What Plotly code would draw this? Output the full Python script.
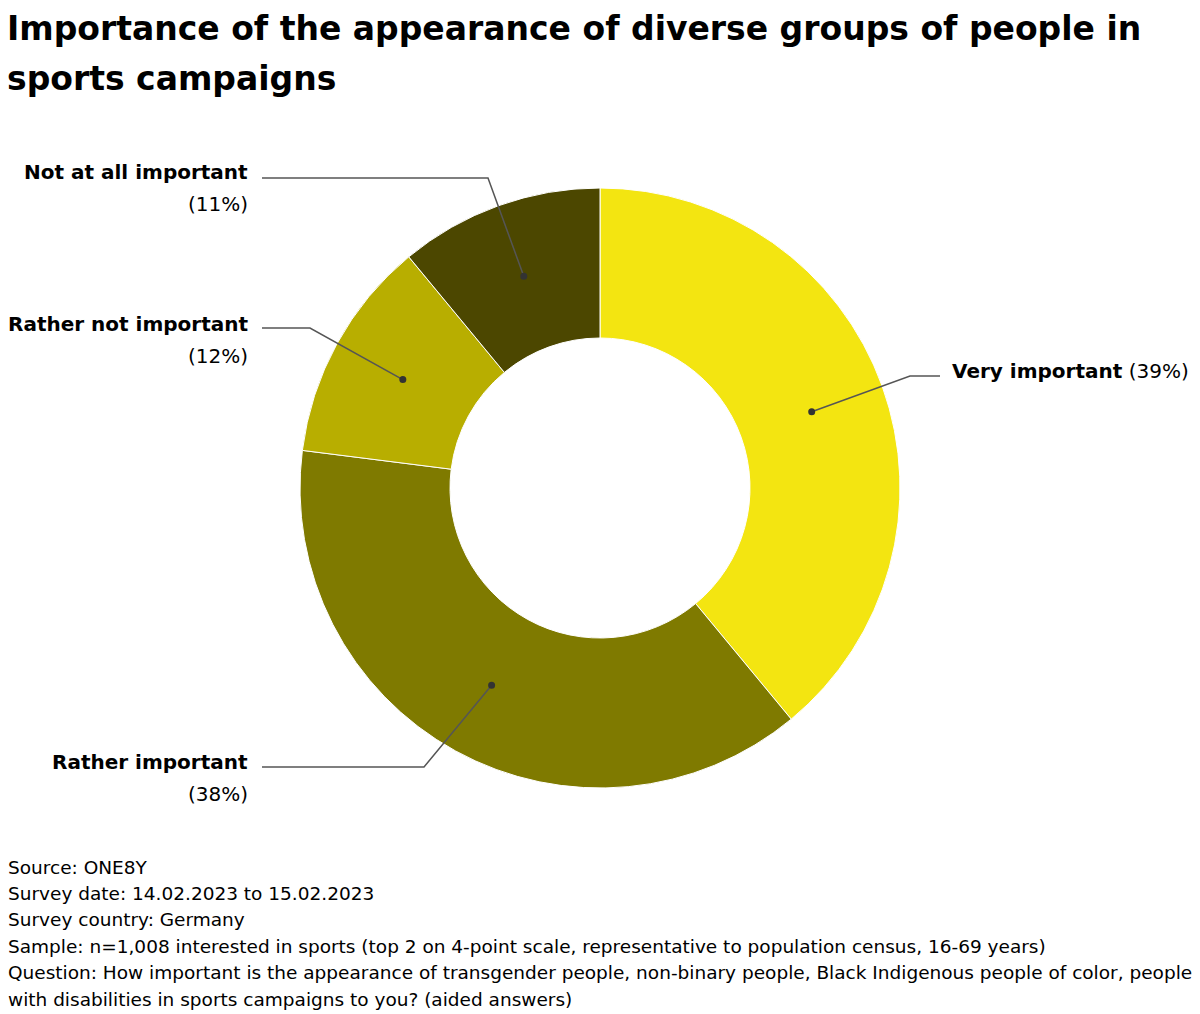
import math
import plotly.graph_objects as go

# ---- data ----
categories = ["Very important", "Rather important", "Rather not important", "Not at all important"]
values = [39, 38, 12, 11]
colors = ["#f3e511", "#7f7a00", "#b8ae00", "#4c4700"]

title_lines = ["Importance of the appearance of diverse groups of people in", "sports campaigns"]
footer_lines = [
    "Source: ONE8Y",
    "Survey date: 14.02.2023 to 15.02.2023",
    "Survey country: Germany",
    "Sample: n=1,008 interested in sports (top 2 on 4-point scale, representative to population census, 16-69 years)",
    "Question: How important is the appearance of transgender people, non-binary people, Black Indigenous people of color, people",
    "with disabilities in sports campaigns to you? (aided answers)",
]

# ---- layout constants (pixels in the 1200x1014 window) ----
OFF = 8  # page body margin
W, H = 1200 - OFF, 1014 - OFF
CX, CY, R = 600, 488, 300
FONT = "DejaVu Sans"

def px(x):
    return (x - OFF) / W

def py(y):
    return 1 - (y - OFF) / H

label_layout = {
    "Very important": dict(side="right", ty=371, elbow=(910, 376), end=940, tx=950),
    "Rather important": dict(side="left", ty=762, elbow=(424, 767), end=262, tx=250),
    "Rather not important": dict(side="left", ty=324, elbow=(310, 328), end=262, tx=250),
    "Not at all important": dict(side="left", ty=172, elbow=(488, 178), end=262, tx=250),
}

fig = go.Figure()
fig.add_trace(go.Pie(
    labels=categories,
    values=values,
    marker=dict(colors=colors, line=dict(color="white", width=1)),
    hole=0.5,
    sort=False,
    direction="clockwise",
    rotation=0,
    textinfo="none",
    hoverinfo="label+percent",
    showlegend=False,
    domain=dict(x=[px(CX - R), px(CX + R)], y=[py(CY + R), py(CY - R)]),
))

shapes = []
annotations = []
total = sum(values)
cum = 0
for cat, v in zip(categories, values):
    mid = (cum + v / 2) / total * 2 * math.pi
    cum += v
    rd = 0.75 * R
    dx = CX + rd * math.sin(mid)
    dy = CY - rd * math.cos(mid)
    L = label_layout[cat]
    ex, ey = L["elbow"]
    path = f"M {px(dx)},{py(dy)} L {px(ex)},{py(ey)} L {px(L['end'])},{py(ey)}"
    shapes.append(dict(type="path", xref="paper", yref="paper", path=path,
                       line=dict(color="#555555", width=1.5)))
    shapes.append(dict(type="circle", xref="paper", yref="paper",
                       xsizemode="pixel", ysizemode="pixel",
                       xanchor=px(dx), yanchor=py(dy), x0=-3.5, x1=3.5, y0=-3.5, y1=3.5,
                       fillcolor="#333333", line=dict(color="#333333", width=0)))
    pct = f"({round(v / total * 100)}%)"
    if L["side"] == "right":
        annotations.append(dict(x=px(L["tx"]), y=py(L["ty"]), xref="paper", yref="paper",
                                text=f"<b>{cat}</b> {pct}", showarrow=False,
                                xanchor="left", yanchor="middle",
                                font=dict(family=FONT, size=20, color="#000000")))
    else:
        annotations.append(dict(x=px(L["tx"]), y=py(L["ty"]), xref="paper", yref="paper",
                                text=f"<b>{cat}</b>", showarrow=False,
                                xanchor="right", yanchor="middle",
                                font=dict(family=FONT, size=20, color="#000000")))
        annotations.append(dict(x=px(L["tx"]), y=py(L["ty"] + 32), xref="paper", yref="paper",
                                text=pct, showarrow=False,
                                xanchor="right", yanchor="middle",
                                font=dict(family=FONT, size=20, color="#000000")))

for i, t in enumerate(title_lines):
    annotations.append(dict(x=0, y=py(29 + 50 * i), xref="paper", yref="paper",
                            text=f"<b>{t}</b>", showarrow=False,
                            xanchor="left", yanchor="middle", xshift=-2, borderpad=0,
                            font=dict(family=FONT, size=33, color="#000000")))

for i, t in enumerate(footer_lines):
    annotations.append(dict(x=0, y=py(867 + 26.4 * i), xref="paper", yref="paper",
                            text=t, showarrow=False,
                            xanchor="left", yanchor="middle", xshift=-2,
                            font=dict(family=FONT, size=18.5, color="#000000")))

fig.update_layout(
    width=W, height=H,
    margin=dict(l=0, r=0, t=0, b=0),
    paper_bgcolor="white",
    plot_bgcolor="white",
    shapes=shapes,
    annotations=annotations,
)

fig.write_html("out.html")
